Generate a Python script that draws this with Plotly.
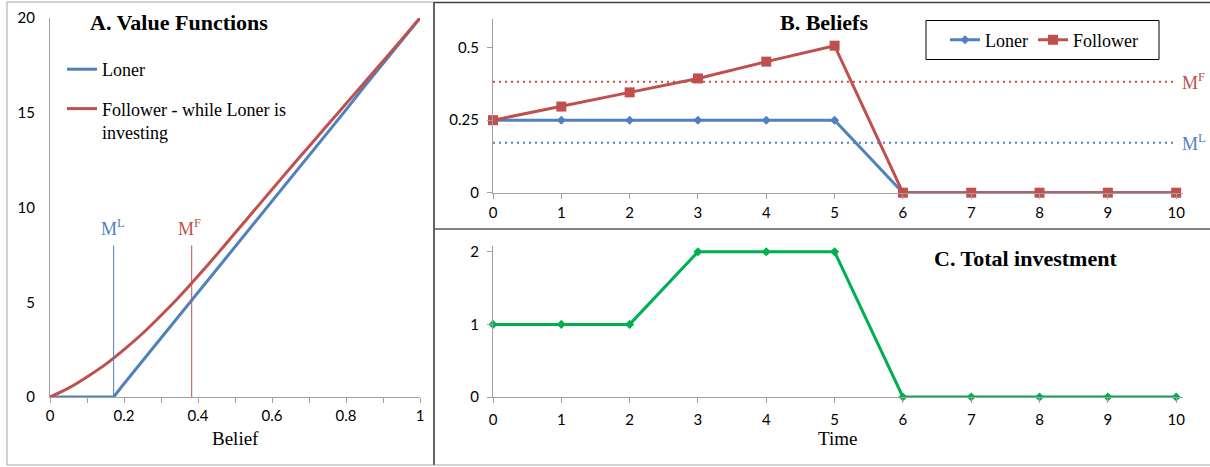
import plotly.graph_objects as go

# ---- Panel A: value functions against belief ----
belief = [0.0, 0.05, 0.1, 0.15, 0.2, 0.25, 0.3, 0.35, 0.4, 0.45, 0.5,
          0.55, 0.6, 0.65, 0.7, 0.75, 0.8, 0.85, 0.9, 0.95, 1.0]
follower_value = [0.0, 0.47, 1.06, 1.72, 2.5, 3.35, 4.3, 5.3, 6.38, 7.5, 8.65,
                  9.8, 10.95, 12.1, 13.22, 14.35, 15.47, 16.6, 17.72, 18.86, 20.0]

loner_belief = [0.0, 0.172, 0.2, 0.25, 0.3, 0.35, 0.4, 0.45, 0.5, 0.55, 0.6,
                0.65, 0.7, 0.75, 0.8, 0.85, 0.9, 0.95, 1.0]
loner_value = [0.0, 0.0, 0.7, 1.9, 3.1, 4.3, 5.5, 6.7, 7.9, 9.1, 10.3,
               11.5, 12.75, 13.95, 15.15, 16.4, 17.6, 18.8, 20.0]

# investment thresholds
M_L = 0.172
M_F = 0.383

# ---- Panels B and C: paths over time ----
time = [0, 1, 2, 3, 4, 5, 6, 7, 8, 9, 10]
loner_path = [0.25, 0.25, 0.25, 0.25, 0.25, 0.25, 0, 0, 0, 0, 0]
follower_path = [0.25, 0.297, 0.346, 0.394, 0.452, 0.507, 0, 0, 0, 0, 0]
total_investment = [1, 1, 1, 2, 2, 2, 0, 0, 0, 0, 0]

# tick values
belief_ticks = [0, 0.2, 0.4, 0.6, 0.8, 1]
value_ticks = [0, 5, 10, 15, 20]
path_ticks = [0, 0.25, 0.5]
invest_ticks = [0, 1, 2]

BLUE = "#4F81BD"
RED = "#C0504D"
GREEN = "#00B050"
AXIS = "#A0A0A0"
SERIF = "Liberation Serif"
SANS = "Lato"

W, H = 1210, 467


def fx(p):
    return p / W


def fy(p):
    return 1 - p / H


fig = go.Figure()

# Panel A curves
fig.add_trace(go.Scatter(x=loner_belief, y=loner_value, mode="lines",
                         line=dict(color=BLUE, width=3), name="Loner",
                         legend="legend2", legendgroup="a1",
                         xaxis="x", yaxis="y"))
fig.add_trace(go.Scatter(x=belief, y=follower_value, mode="lines",
                         line=dict(color=RED, width=3, shape="spline",
                                   smoothing=0.8),
                         name="Follower - while Loner is<br>investing",
                         legend="legend2", legendgroup="a2",
                         xaxis="x", yaxis="y"))

# Panel B paths
fig.add_trace(go.Scatter(x=time, y=loner_path, mode="lines+markers",
                         line=dict(color=BLUE, width=3),
                         marker=dict(symbol="diamond", size=7, color=BLUE),
                         name="Loner", legend="legend", cliponaxis=False,
                         xaxis="x2", yaxis="y2"))
fig.add_trace(go.Scatter(x=time, y=follower_path, mode="lines+markers",
                         line=dict(color=RED, width=3),
                         marker=dict(symbol="square", size=10, color=RED),
                         name="Follower", legend="legend", cliponaxis=False,
                         xaxis="x2", yaxis="y2"))

# Panel C total investment
fig.add_trace(go.Scatter(x=time, y=total_investment, mode="lines+markers",
                         line=dict(color=GREEN, width=3),
                         marker=dict(symbol="diamond", size=7, color=GREEN),
                         showlegend=False, cliponaxis=False,
                         xaxis="x3", yaxis="y3"))

tickfont = dict(family=SANS, size=15, color="#000")
common = dict(showgrid=False, zeroline=False, showline=True, linecolor=AXIS,
              linewidth=1, tickfont=tickfont, automargin=False)

fig.update_layout(
    width=W, height=H, template="none",
    margin=dict(l=0, r=0, t=0, b=0),
    paper_bgcolor="white", plot_bgcolor="white",
    xaxis=dict(domain=[fx(50), fx(420)], range=[0, 1], anchor="y",
               tickvals=belief_ticks, ticks="outside", ticklen=5,
               tickcolor=AXIS,
               minor=dict(dtick=0.1, tick0=0, ticks="outside", ticklen=5,
                          tickcolor=AXIS),
               **common),
    yaxis=dict(domain=[fy(397), fy(18)], range=[0, 20], anchor="x",
               tickvals=value_ticks, ticks="", ticklabelstandoff=11,
               **common),
    xaxis2=dict(domain=[fx(493), fx(1183)], range=[0, 10.1], anchor="y2",
                tickvals=time, ticks="outside", ticklen=5, tickcolor=AXIS,
                ticklabelstandoff=1, **common),
    yaxis2=dict(domain=[fy(192.7), fy(18.7)], range=[0, 0.6], anchor="x2",
                tickvals=path_ticks, ticks="outside", ticklen=5,
                tickcolor=AXIS, ticklabelstandoff=5, **common),
    xaxis3=dict(domain=[fx(493), fx(1183)], range=[0, 10.1], anchor="y3",
                tickvals=time, ticks="outside", ticklen=5, tickcolor=AXIS,
                ticklabelstandoff=4, **common),
    yaxis3=dict(domain=[fy(397), fy(246)], range=[0, 2.08], anchor="x3",
                tickvals=invest_ticks, ticks="outside", ticklen=5,
                tickcolor=AXIS, ticklabelstandoff=5, **common),
    legend=dict(x=fx(945), y=fy(40), xanchor="left", yanchor="middle",
                orientation="h", borderwidth=0, bgcolor="rgba(0,0,0,0)",
                font=dict(family=SERIF, size=18, color="#000")),
    legend2=dict(x=fx(62), y=fy(51), xanchor="left", yanchor="top",
                 orientation="v", bgcolor="rgba(0,0,0,0)", borderwidth=0,
                 tracegroupgap=13, valign="top",
                 font=dict(family=SERIF, size=18, color="#000")),
    showlegend=True,
)

# panel frames
frame_grey = "#A6A6A6"
frame_dark = "#404040"
shapes = [
    dict(type="rect", xref="paper", yref="paper", x0=fx(7), x1=fx(434),
         y0=fy(465), y1=fy(2), line=dict(color=frame_grey, width=1)),
    dict(type="line", xref="paper", yref="paper", x0=fx(434), x1=1,
         y0=fy(2.5), y1=fy(2.5), line=dict(color=frame_dark, width=1.5)),
    dict(type="line", xref="paper", yref="paper", x0=fx(434), x1=fx(434),
         y0=fy(2), y1=fy(465), line=dict(color=frame_dark, width=1.5)),
    dict(type="line", xref="paper", yref="paper", x0=fx(434), x1=1,
         y0=fy(229), y1=fy(229), line=dict(color="#595959", width=1.5)),
    dict(type="line", xref="paper", yref="paper", x0=fx(434), x1=1,
         y0=fy(465), y1=fy(465), line=dict(color=frame_grey, width=1)),
    # legend box of panel B
    dict(type="rect", xref="paper", yref="paper", x0=fx(926), x1=fx(1159),
         y0=fy(59.5), y1=fy(20.5), line=dict(color="#000", width=1)),
    # thresholds in panel A
    dict(type="line", xref="x", yref="y", x0=M_L, x1=M_L, y0=0, y1=8,
         line=dict(color=BLUE, width=1)),
    dict(type="line", xref="x", yref="y", x0=M_F, x1=M_F, y0=0, y1=8,
         line=dict(color=RED, width=1)),
    # thresholds in panel B
    dict(type="line", xref="x2", yref="y2", x0=0, x1=10, y0=M_F, y1=M_F,
         line=dict(color=RED, width=2, dash="2px,4px")),
    dict(type="line", xref="x2", yref="y2", x0=0, x1=10, y0=M_L, y1=M_L,
         line=dict(color=BLUE, width=2, dash="2px,4px")),
]
fig.update_layout(shapes=shapes)

title_font = dict(family=SERIF, size=22, color="#000")
label_font = dict(family=SERIF, size=19, color="#000")


def paper_text(text, px, py, font):
    return dict(text=text, x=fx(px), y=fy(py), xref="paper", yref="paper",
                xanchor="center", yanchor="middle", showarrow=False,
                font=font)


annotations = [
    paper_text("<b>A. Value Functions</b>", 178.5, 22, title_font),
    paper_text("<b>B. Beliefs</b>", 823.5, 22, title_font),
    paper_text("<b>C. Total investment</b>", 1025, 258, title_font),
    paper_text("Belief", 235, 438, label_font),
    paper_text("Time", 837, 438, label_font),
    dict(text="M<sup>L</sup>", x=M_L, y=8, xref="x", yref="y",
         xanchor="center", yanchor="bottom", yshift=4, xshift=-1,
         showarrow=False, font=dict(family=SERIF, size=18, color=BLUE)),
    dict(text="M<sup>F</sup>", x=M_F, y=8, xref="x", yref="y",
         xanchor="center", yanchor="bottom", yshift=4, xshift=-2,
         showarrow=False, font=dict(family=SERIF, size=18, color=RED)),
    dict(text="M<sup>F</sup>", x=10, y=M_F, xref="x2", yref="y2",
         xanchor="left", yanchor="middle", xshift=4,
         showarrow=False, font=dict(family=SERIF, size=18, color=RED)),
    dict(text="M<sup>L</sup>", x=10, y=M_L, xref="x2", yref="y2",
         xanchor="left", yanchor="middle", xshift=4,
         showarrow=False, font=dict(family=SERIF, size=18, color=BLUE)),
]
fig.update_layout(annotations=annotations)

fig.write_html("out.html")
